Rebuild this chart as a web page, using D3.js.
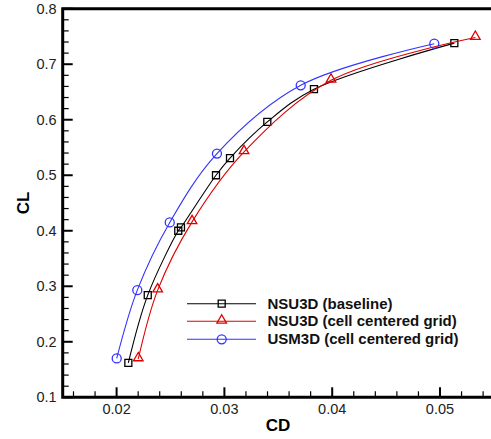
<!DOCTYPE html>
<html>
<head>
<meta charset="utf-8">
<script src="https://cdn.jsdelivr.net/npm/d3@7"></script>
<style>
  body { margin: 0; background: #fff; }
  svg { display: block; font-family: Arial, "Liberation Sans", sans-serif; }
</style>
</head>
<body>
<div id="chart"></div>
<script>
const width = 491;
const height = 439;
const marginLeft = 62.7;
const marginTop = 8.7;
const plotW = 431.2;   // 0.015 -> 0.055, right edge falls just outside the window
const plotH = 388.6;

// data
const baselineCD = [0.02109, 0.02289, 0.02572, 0.02597, 0.02922, 0.03052, 0.03398, 0.03831, 0.05133];
const baselineCL = [0.162, 0.284, 0.400, 0.406, 0.500, 0.531, 0.596, 0.655, 0.738];
const cellCD = [0.02201, 0.02381, 0.02700, 0.03182, 0.03989, 0.05328];
const cellCL = [0.169, 0.293, 0.416, 0.542, 0.671, 0.748];
const usmCD = [0.02001, 0.02192, 0.02493, 0.02931, 0.03708, 0.04947];
const usmCL = [0.170, 0.293, 0.415, 0.539, 0.662, 0.737];

const seriesNames = ["NSU3D (baseline)", "NSU3D (cell centered grid)", "USM3D (cell centered grid)"];
const xTicks = [0.02, 0.03, 0.04, 0.05];
const yTicks = [0.1, 0.2, 0.3, 0.4, 0.5, 0.6, 0.7, 0.8];

const series = [
  { name: seriesNames[0], cd: baselineCD, cl: baselineCL, color: "#000000", symbol: "square" },
  { name: seriesNames[1], cd: cellCD, cl: cellCL, color: "#e00000", symbol: "triangle" },
  { name: seriesNames[2], cd: usmCD, cl: usmCL, color: "#3333ff", symbol: "circle" }
];

const x = d3.scaleLinear().domain([0.015, 0.055]).range([0, plotW]);
const y = d3.scaleLinear().domain([0.1, 0.8]).range([plotH, 0]);

const svg = d3.select("#chart").append("svg")
    .attr("width", width)
    .attr("height", height);

const g = svg.append("g")
    .attr("transform", `translate(${marginLeft},${marginTop})`);

// minor ticks (inward)
const xMinor = d3.range(0.016, 0.0551, 0.002).filter(v => !xTicks.some(t => Math.abs(t - v) < 1e-6));
const yMinor = d3.range(0.1, 0.801, 0.02).filter(v => !yTicks.some(t => Math.abs(t - v) < 1e-6));

g.selectAll(".xminor").data(xMinor).join("line")
    .attr("x1", d => x(d)).attr("x2", d => x(d))
    .attr("y1", plotH).attr("y2", plotH - 6)
    .attr("stroke", "#000").attr("stroke-width", 1.2);
g.selectAll(".xmajor").data(xTicks).join("line")
    .attr("x1", d => x(d)).attr("x2", d => x(d))
    .attr("y1", plotH).attr("y2", plotH - 10)
    .attr("stroke", "#000").attr("stroke-width", 2);
g.selectAll(".yminor").data(yMinor).join("line")
    .attr("x1", 0).attr("x2", 6)
    .attr("y1", d => y(d)).attr("y2", d => y(d))
    .attr("stroke", "#000").attr("stroke-width", 1.2);
g.selectAll(".ymajor").data(yTicks).join("line")
    .attr("x1", 0).attr("x2", 10)
    .attr("y1", d => y(d)).attr("y2", d => y(d))
    .attr("stroke", "#000").attr("stroke-width", 2);

// frame
g.append("path")
    .attr("d", `M${plotW},${plotH}H0V0H${plotW}`)
    .attr("fill", "none")
    .attr("stroke", "#000")
    .attr("stroke-width", 3);

// tick labels
g.selectAll(".xlab").data(xTicks).join("text")
    .attr("x", d => x(d))
    .attr("y", plotH + 17)
    .attr("text-anchor", "middle")
    .attr("font-size", 14.5)
    .attr("fill", "#222")
    .text(d => d3.format(".2f")(d));
g.selectAll(".ylab").data(yTicks).join("text")
    .attr("x", -6)
    .attr("y", d => y(d) + 5)
    .attr("text-anchor", "end")
    .attr("font-size", 14.5)
    .attr("fill", "#222")
    .text(d => d3.format(".1f")(d));

// axis titles
svg.append("text")
    .attr("x", 278).attr("y", 431)
    .attr("text-anchor", "middle")
    .attr("font-size", 17).attr("font-weight", "bold")
    .text("CD");
svg.append("text")
    .attr("transform", "translate(29,203) rotate(-90)")
    .attr("text-anchor", "middle")
    .attr("font-size", 17).attr("font-weight", "bold")
    .text("CL");

const symbolType = { square: d3.symbolSquare, triangle: d3.symbolTriangle, circle: d3.symbolCircle };
const symbolSize = { square: 49, triangle: 40, circle: 64 };

function drawMarker(sel, s, cx, cy) {
  const yOff = s.symbol === "triangle" ? -1 : 0;
  sel.append("path")
      .attr("d", d3.symbol().type(symbolType[s.symbol]).size(symbolSize[s.symbol])())
      .attr("transform", `translate(${cx},${cy + yOff})`)
      .attr("fill", "none")
      .attr("stroke", s.color)
      .attr("stroke-width", 1.3);
}

const line = d3.line()
    .x(d => x(d[0]))
    .y(d => y(d[1]))
    .curve(d3.curveCatmullRom.alpha(0.5));

series.forEach(s => {
  const pts = s.cd.map((v, i) => [v, s.cl[i]]);
  g.append("path")
      .datum(pts)
      .attr("fill", "none")
      .attr("stroke", s.color)
      .attr("stroke-width", 1.1)
      .attr("d", line);
  pts.forEach(p => drawMarker(g, s, x(p[0]), y(p[1])));
});

// legend
const legendRows = [303.7, 321.3, 339.3];
series.forEach((s, i) => {
  const ly = legendRows[i];
  svg.append("line")
      .attr("x1", 187).attr("x2", 256)
      .attr("y1", ly).attr("y2", ly)
      .attr("stroke", s.color)
      .attr("stroke-width", 1.1);
  drawMarker(svg, s, 221.7, ly);
  svg.append("text")
      .attr("x", 267.5).attr("y", ly + 5)
      .attr("font-size", 15).attr("font-weight", "bold")
      .attr("fill", "#111")
      .text(s.name);
});
</script>
</body>
</html>
